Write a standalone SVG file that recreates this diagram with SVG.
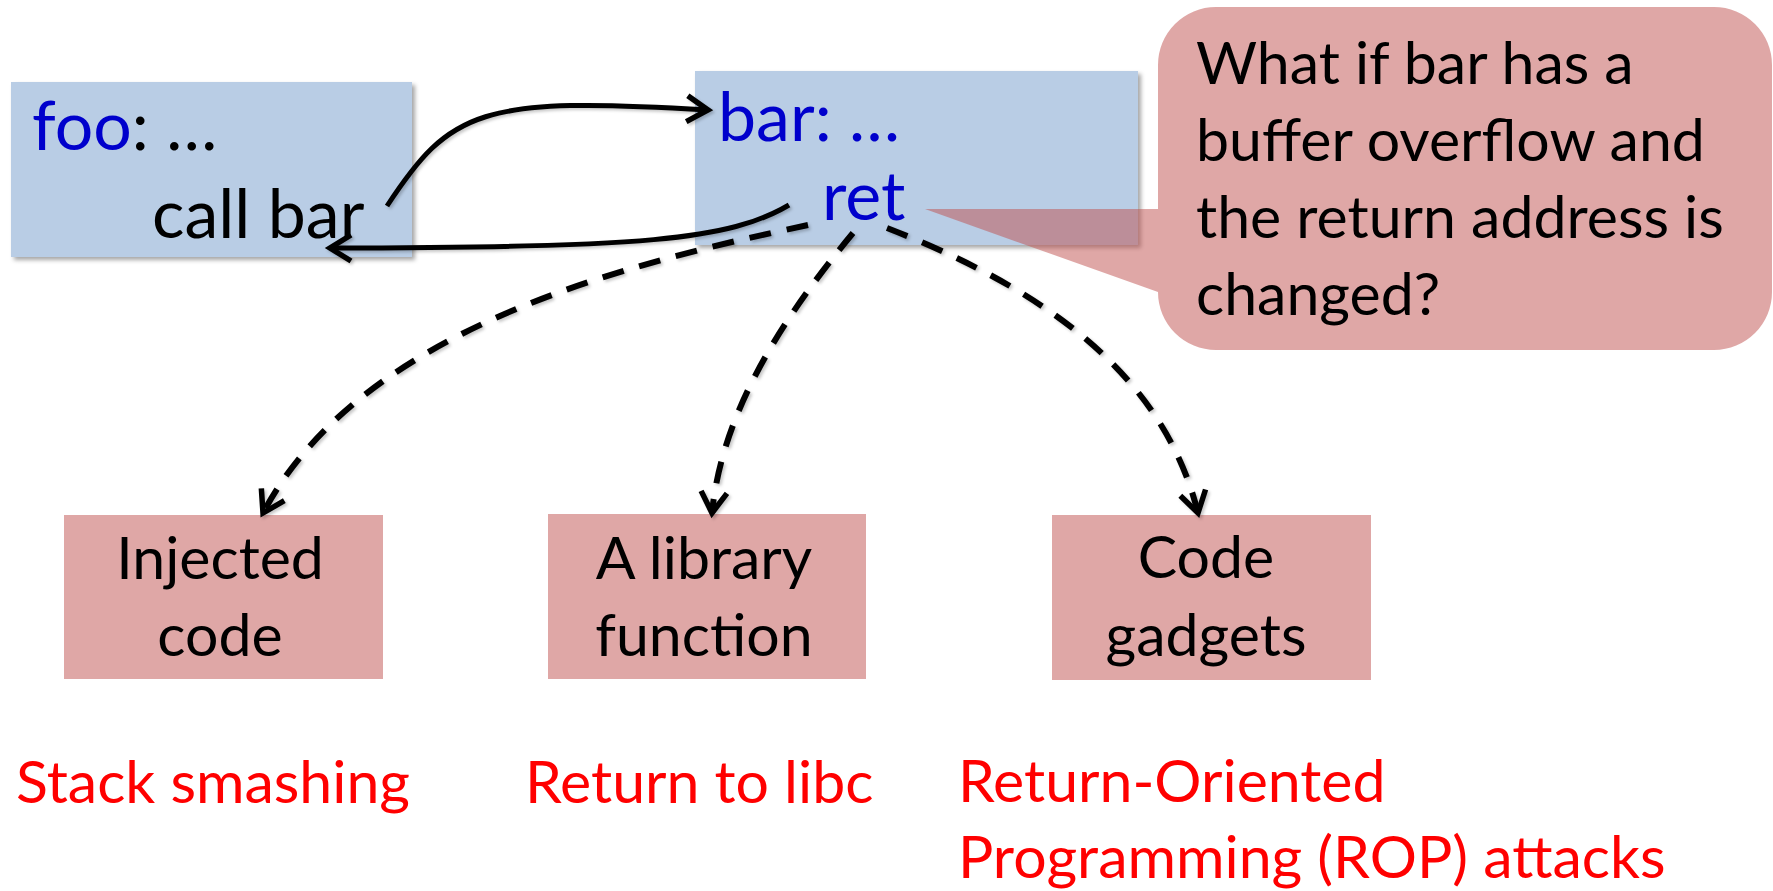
<svg xmlns="http://www.w3.org/2000/svg" width="1773" height="891" viewBox="0 0 1773 891">
  <style>
    .txt { font-family: Lato, "Liberation Sans", sans-serif; }
    .code { font-size: 68px; }
    .body { font-size: 59px; fill: #000; }
    .blue { fill: #0000CC; }
    .red { fill: #FF0000; font-size: 59px; }
    .codebox { fill: #B9CDE5; }
    .pinkbox { fill: #C0504D; fill-opacity: 0.5; }
    .conn { fill: none; stroke: #000; stroke-width: 5; stroke-linecap: butt; }
    .dash { stroke-width: 6; stroke-dasharray: 22 16; }
  </style>
  <defs>
    <filter id="shadow" x="-5%" y="-5%" width="115%" height="120%">
      <feDropShadow dx="3" dy="3" stdDeviation="2" flood-color="#000" flood-opacity="0.35"/>
    </filter>
    <filter id="lineshadow" x="-5%" y="-5%" width="115%" height="115%">
      <feDropShadow dx="2" dy="2" stdDeviation="1.5" flood-color="#000" flood-opacity="0.22"/>
    </filter>
    <marker id="open" markerUnits="userSpaceOnUse" viewBox="-30 -20 40 40" markerWidth="40" markerHeight="40" refX="0" refY="0" orient="auto">
      <path d="M -21 -13 L 0 0 L -21 13" fill="none" stroke="#000" stroke-width="5.5" stroke-dasharray="none" stroke-linejoin="miter"/>
    </marker>
  </defs>

  <rect width="1773" height="891" fill="#fff"/>

  <!-- caller -->
  <g id="foo">
    <rect class="codebox" x="11" y="82" width="401" height="175" filter="url(#shadow)"/>
    <text class="txt code" x="32" y="150"><tspan class="blue">foo</tspan>: …</text>
    <text class="txt code" x="152" y="238">call bar</text>
  </g>

  <!-- callee -->
  <g id="bar">
    <rect class="codebox" x="695" y="71" width="443" height="174" filter="url(#shadow)"/>
    <text class="txt code blue" x="718" y="141">bar: …</text>
    <text class="txt code blue" x="822" y="220">ret</text>
  </g>

  <!-- question callout -->
  <g id="callout">
    <path class="pinkbox" d="M 1216 7 H 1714 A 58 58 0 0 1 1772 65 V 292 A 58 58 0 0 1 1714 350 H 1216 A 58 58 0 0 1 1158 292 L 925 209 L 1158 209 V 65 A 58 58 0 0 1 1216 7 Z"/>
    <text class="txt body" x="1196" y="84">What if bar has a</text>
    <text class="txt body" x="1196" y="161">buffer overflow and</text>
    <text class="txt body" x="1196" y="238">the return address is</text>
    <text class="txt body" x="1196" y="315">changed?</text>
  </g>

  <!-- possible return targets -->
  <g id="injected">
    <rect class="pinkbox" x="64" y="515" width="319" height="164"/>
    <text class="txt body" x="220" y="579" text-anchor="middle">Injected</text>
    <text class="txt body" x="220" y="656" text-anchor="middle">code</text>
  </g>
  <g id="library">
    <rect class="pinkbox" x="548" y="514" width="318" height="165"/>
    <text class="txt body" x="704" y="579" text-anchor="middle">A library</text>
    <text class="txt body" x="704" y="656" text-anchor="middle">function</text>
  </g>
  <g id="gadgets">
    <rect class="pinkbox" x="1052" y="515" width="319" height="165"/>
    <text class="txt body" x="1206" y="578" text-anchor="middle">Code</text>
    <text class="txt body" x="1206" y="656" text-anchor="middle">gadgets</text>
  </g>

  <!-- attack names -->
  <g id="labels">
    <text class="txt red" x="16" y="803">Stack smashing</text>
    <text class="txt red" x="525" y="803">Return to libc</text>
    <text class="txt red" x="958" y="802">Return-Oriented</text>
    <text class="txt red" x="958" y="878">Programming (ROP) attacks</text>
  </g>

  <!-- control-flow edges -->
  <g id="connectors" filter="url(#lineshadow)">
    <path class="conn" d="M 387 206 C 450 110, 480 96, 708 110" marker-end="url(#open)"/>
    <path class="conn" d="M 789 205 C 730 240, 640 248, 330 248" marker-end="url(#open)"/>
    <path class="conn dash" d="M 808 225 C 620 265, 360 330, 263 513" marker-end="url(#open)"/>
    <path class="conn dash" d="M 853 233 C 785 315, 722 410, 712 513" marker-end="url(#open)"/>
    <path class="conn dash" d="M 887 228 C 1020 280, 1160 360, 1198 513" marker-end="url(#open)"/>
  </g>
</svg>
